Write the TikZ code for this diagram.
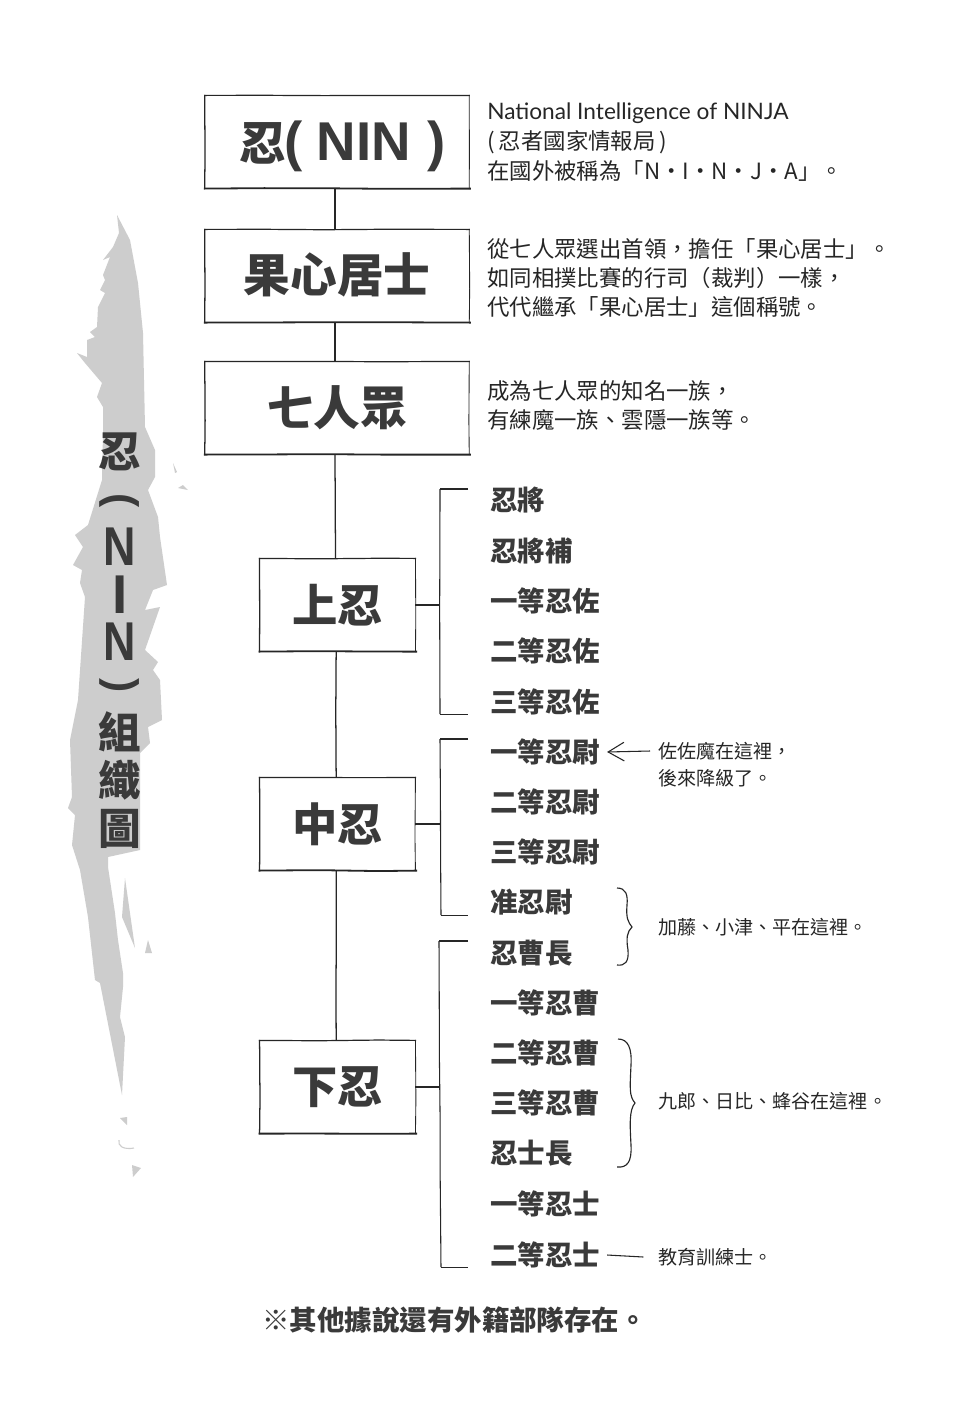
\documentclass[tikz,border=0pt]{standalone}
\usepackage{fontspec}
\usetikzlibrary{decorations.pathmorphing,arrows.meta}
\setmainfont{Noto Sans CJK TC}
\newfontfamily\hv{Noto Sans CJK TC Black}
\newfontfamily\rg{Noto Sans CJK TC}
\newfontfamily\lat{Lato}
\newfontfamily\arb{Liberation Sans Bold}
\definecolor{ink}{HTML}{3A3A3A}
\definecolor{linec}{HTML}{262626}
\definecolor{wash}{HTML}{CDCDCD}
\tikzset{
  rough/.style={decorate,decoration={random steps,segment length=45pt,amplitude=0.35pt}},
  bigbox/.style={inner sep=0pt,minimum width=198pt,minimum height=69.5pt,text=ink,font=\hv\fontsize{35}{37}\selectfont},
  midbox/.style={inner sep=0pt,minimum width=116.5pt,minimum height=69.5pt,text=ink,font=\hv\fontsize{34}{36}\selectfont},
  link/.style={draw=linec,line width=0.95pt,rough},
  thin link/.style={draw=linec,line width=0.8pt,rough},
  rank/.style={anchor=west,inner sep=0pt,text=ink,font=\hv\fontsize{20.6}{22}\selectfont},
  desc/.style={anchor=west,inner sep=0pt,text=linec,font=\rg\fontsize{16.8}{18}\selectfont},
  note/.style={anchor=west,inner sep=0pt,text=linec,font=\rg\fontsize{14.3}{16}\selectfont},
  vert/.style={inner sep=0pt,text=ink,font=\hv\fontsize{32}{34}\selectfont},
  vertl/.style={inner sep=0pt,text=ink,font=\arb\fontsize{41}{43}\selectfont},
  vertp/.style={inner sep=0pt,text=ink,rotate=-90,font=\arb\fontsize{32}{34}\selectfont},
}
\newcommand\sketchbox[1]{%
  \path[draw=linec,line width=0.9pt,rough] ([xshift=-.5pt]#1.north west) -- ([xshift=.5pt]#1.north east);
  \path[draw=linec,line width=1.35pt,rough] ([xshift=-.7pt]#1.south west) -- ([xshift=1.2pt]#1.south east);
  \path[draw=linec,line width=0.95pt,rough] ([yshift=.4pt]#1.north west) -- ([yshift=-.4pt]#1.south west);
  \path[draw=linec,line width=0.65pt,rough] ([yshift=.4pt]#1.north east) -- ([yshift=-.4pt]#1.south east);
}
\newcommand\vcap[1]{\raisebox{-14.7pt}[0pt][0pt]{#1}}
\pgfmathsetseed{7}
\begin{document}
\begin{tikzpicture}[x=0.75pt,y=-0.75pt]
\useasboundingbox[fill=white] (0,0) rectangle (980,1425);
% ink wash
\fill[wash] (117,215) -- (130,240) -- (138,283) -- (143,333) -- (145,427) -- (155,450) -- (155,477) -- (148,490) -- (158,517) -- (160,537) -- (167,585) -- (153,590) -- (145,610) -- (160,607) -- (145,650) -- (158,662) -- (153,670) -- (160,680) -- (162,720) -- (148,727) -- (150,743) -- (140,753) -- (140,850) -- (108,857) -- (108,867) -- (115,913) -- (118,940) -- (123,973) -- (123,987) -- (120,1017) -- (125,1037) -- (122,1095) -- (100,983) -- (95,980) -- (88,917) -- (80,870) -- (72,845) -- (75,815) -- (68,808) -- (72,797) -- (70,740) -- (78,700) -- (85,597) -- (80,583) -- (82,570) -- (73,565) -- (83,547) -- (75,535) -- (88,525) -- (102,480) -- (103,433) -- (103,407) -- (97,397) -- (102,383) -- (85,363) -- (77,353) -- (87,357) -- (87,340) -- (95,337) -- (90,332) -- (97,327) -- (98,307) -- (105,293) -- (100,290) -- (105,280) -- (103,275) -- (110,257) -- (103,260) -- (113,247) -- (119,233) -- cycle;
\fill[wash] (125,878) -- (130,913) -- (135,948) -- (122,917) -- cycle;
\fill[wash] (148,940) -- (152,953) -- (145,953) -- cycle;
\fill[wash] (120,1118) -- (127,1117) -- (127,1125) -- cycle;
\fill[wash] (132,1165) -- (141,1168) -- (133,1177) -- cycle;
\fill[wash] (173,463) -- (177,472) -- (175,473) -- cycle;
\fill[wash] (178,488) -- (183,485) -- (188,490) -- cycle;
\draw[wash,line width=0.8pt] (119,1140) .. controls (117,1146) and (124,1150) .. (134,1148);
% vertical title
\node[vert] (v1) at (120,452) {忍};
\node[vertp] (v2) at (120,501) {(};
\node[vertl,xscale=.82] (v3) at (120,546) {\vcap{N}};
\node[vertl] (v4) at (120,594) {\vcap{I}};
\node[vertl,xscale=.82] (v5) at (120,641) {\vcap{N}};
\node[vertp] (v6) at (120,686) {)};
\node[vert] (v7) at (120,732) {組};
\node[vert] (v8) at (120,780) {織};
\node[vert] (v9) at (120,829) {圖};
% boxes
\node[bigbox] (b1) at (337,142) {\raisebox{-13.5pt}[0pt][0pt]{\kern8pt 忍{\arb\fontsize{41}{42}\selectfont\kern-1pt(\kern-1pt\ NIN\kern1pt\ )}}};
\node[bigbox] (b2) at (337,276) {\raisebox{-12pt}[0pt][0pt]{果心居士}};
\node[bigbox] (b3) at (337,408) {七人眾};
\node[midbox] (m1) at (337.5,605) {上忍};
\node[midbox] (m2) at (337.5,824) {中忍};
\node[midbox] (m3) at (337.5,1087) {下忍};
\sketchbox{b1}\sketchbox{b2}\sketchbox{b3}\sketchbox{m1}\sketchbox{m2}\sketchbox{m3}
\path[link] ([xshift=-1.5pt]b1.south) -- ([xshift=-1.5pt]b2.north);
\path[link] ([xshift=-1.5pt]b2.south) -- ([xshift=-1.5pt]b3.north);
\path[link] ([xshift=-1.5pt]b3.south) -- ([xshift=-1.5pt]m1.north);
\path[link] ([xshift=-1pt]m1.south) -- ([xshift=-1pt]m2.north);
\path[link] ([xshift=-1pt]m2.south) -- ([xshift=-1pt]m3.north);
% brackets
\coordinate (k1a) at (468,489); \coordinate (k1b) at (440,489); \coordinate (k1c) at (440,714); \coordinate (k1d) at (468,714); \coordinate (k1m) at (440,605);
\coordinate (k2a) at (468,739); \coordinate (k2b) at (440,739); \coordinate (k2c) at (441,915); \coordinate (k2d) at (468,915); \coordinate (k2m) at (440,824);
\coordinate (k3a) at (468,941); \coordinate (k3b) at (439,941); \coordinate (k3c) at (441,1267); \coordinate (k3d) at (468,1267); \coordinate (k3m) at (440,1087);
\path[thin link] (k1a) -- (k1b);
\path[thin link] (k1b) -- (k1c);
\path[thin link,line width=0.55pt] (k1c) -- (k1d);
\path[thin link] (m1.east) -- (k1m);
\path[thin link] (k2a) -- (k2b);
\path[thin link] (k2b) -- (k2c);
\path[thin link,line width=0.55pt] (k2c) -- (k2d);
\path[thin link] (m2.east) -- (k2m);
\path[thin link] (k3a) -- (k3b);
\path[thin link] (k3b) -- (k3c);
\path[thin link,line width=0.55pt] (k3c) -- (k3d);
\path[thin link] (m3.east) -- (k3m);
% descriptions
\node[desc] (d11) at (487,113.5) {\lat\fontsize{17}{18}\selectfont National Intelligence of NINJA};
\node[desc] (d12) at (487,142) {(\kern3pt 忍者國家情報局\kern3pt )};
\node[desc] (d13) at (487,171) {在國外被稱為「N・I・N・J・A」。};
\node[desc] (d21) at (487,249) {從七人眾選出首領，擔任「果心居士」。};
\node[desc] (d22) at (487,278) {如同相撲比賽的行司（裁判）一樣，};
\node[desc] (d23) at (487,307) {代代繼承「果心居士」這個稱號。};
\node[desc] (d31) at (487,391) {成為七人眾的知名一族，};
\node[desc] (d32) at (487,420) {有練魔一族、雲隱一族等。};
% ranks
\node[rank] (r1) at (490,500) {忍將};
\node[rank] (r2) at (490,551) {忍將補};
\node[rank] (r3) at (490,601) {一等忍佐};
\node[rank] (r4) at (490,651) {二等忍佐};
\node[rank] (r5) at (490,702) {三等忍佐};
\node[rank] (r6) at (490,752) {一等忍尉};
\node[rank] (r7) at (490,802) {二等忍尉};
\node[rank] (r8) at (490,852) {三等忍尉};
\node[rank] (r9) at (490,902) {准忍尉};
\node[rank] (r10) at (490,953) {忍曹長};
\node[rank] (r11) at (490,1003) {一等忍曹};
\node[rank] (r12) at (490,1053) {二等忍曹};
\node[rank] (r13) at (490,1103) {三等忍曹};
\node[rank] (r14) at (490,1153) {忍士長};
\node[rank] (r15) at (490,1204) {一等忍士};
\node[rank] (r16) at (490,1255) {二等忍士};
% notes
\node[note] (n1) at (658,751) {佐佐魔在這裡，};
\node[note] (n2) at (658,778) {後來降級了。};
\node[note] (n3) at (658,927) {加藤、小津、平在這裡。};
\node[note] (n4) at (658,1101) {九郎、日比、蜂谷在這裡。};
\node[note] (n5) at (658,1257) {教育訓練士。};
\draw[linec,line width=0.8pt,-{Straight Barb[length=12pt,width=14pt]}] ([xshift=-6pt]n1.west) -- ([xshift=5pt]r6.east);
\draw[linec,line width=0.8pt] ([xshift=-11pt]n5.west) -- ([xshift=5pt]r16.east);
% braces
\coordinate (c1t) at (617,888); \coordinate (c1m) at (632,927); \coordinate (c1b) at (617,965);
\draw[linec,line width=0.85pt] (c1t) .. controls (626,888) and (628,895) .. (627,905) .. controls (626,918) and (628,922) .. (c1m) .. controls (627,932) and (626,938) .. (628,950) .. controls (629,962) and (625,966) .. (c1b);
\coordinate (c2t) at (618,1039); \coordinate (c2m) at (635,1103); \coordinate (c2b) at (617,1167);
\draw[linec,line width=0.85pt] (c2t) .. controls (628,1039) and (632,1048) .. (631,1065) .. controls (630,1088) and (629,1096) .. (c2m) .. controls (629,1110) and (630,1125) .. (631,1145) .. controls (632,1162) and (627,1168) .. (c2b);
% footer
\node[rank] (f) at (262,1320) {※其他據說還有外籍部隊存在。};
\end{tikzpicture}
\end{document}
